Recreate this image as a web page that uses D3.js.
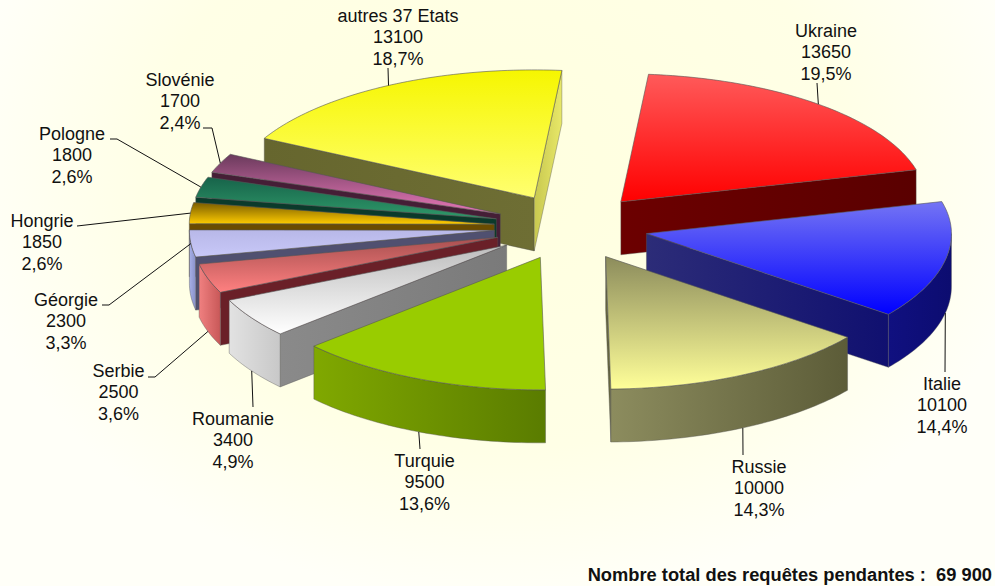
<!DOCTYPE html>
<html><head><meta charset="utf-8">
<script src="https://cdn.jsdelivr.net/npm/d3@7"></script>
<style>html,body{margin:0;padding:0;background:#ffffe8;overflow:hidden}svg{display:block}text{font-family:"Liberation Sans",Arial,sans-serif;fill:#111}</style>
</head><body><svg id="c" width="995" height="586"></svg>
<script>
const categories = ["Ukraine","Italie","Russie","Turquie","Roumanie","Serbie","Géorgie","Hongrie","Pologne","Slovénie","autres 37 Etats"];
const values = [13650,10100,10000,9500,3400,2500,2300,1850,1800,1700,13100];
const percents = ["19,5%","14,4%","14,3%","13,6%","4,9%","3,6%","3,3%","2,6%","2,6%","2,4%","18,7%"];
const totalLabel = "Nombre total des requêtes pendantes :  69 900";

// drawing order, back to front
const paintOrder = ["autres 37 Etats","Ukraine","Slovénie","Pologne","Hongrie","Géorgie","Serbie","Roumanie","Italie","Turquie","Russie"];
// top gradient (high, low), arc wall gradient (left, right), radial wall gradient (left, right), optional end-wall colours
const faceStyles = {
 "Ukraine":["#ff5a5a","#ff0000","#6b0000","#6b0000","#6c0000","#5a0000"],
 "Italie":["#7474f4","#0000ff","#101080","#0c0c70","#2c2c78","#101070"],
 "Russie":["#8c8c5c","#ffff99","#8c8c5e","#5c5c38","#66663e","#66663e"],
 "Turquie":["#99cc00","#99cc00","#80a800","#5a7c00","#7a9a00","#7a9a00"],
 "Roumanie":["#bdbdbd","#ffffff","#e2e2e2","#c8c8c8","#8a8a8a","#7a7a7a"],
 "Serbie":["#a85050","#ff8080","#f08080","#c85858","#6a2028","#6a2028"],
 "Géorgie":["#b8b8e8","#c8c8f8","#a8b0e8","#8890c8","#505070","#505070"],
 "Hongrie":["#7a5c00","#ffcc00","#aa8800","#aa8800","#6a4c00","#6a4c00"],
 "Pologne":["#17634a","#2f9a6a","#1a6a4a","#1a6a4a","#0b3a2b","#0b3a2b"],
 "Slovénie":["#6a3a5c","#e878b8","#6a3a5c","#6a3a5c","#451e36","#451e36"],
 "autres 37 Etats":["#f6f600","#ffff70","#6b6b30","#6b6b30","#66662e","#6e6e34","#c8c850","#e8e868"]
};
// text block centre + first baseline, and the elbow points of each leader line
const labelLayout = {
 "Ukraine":{x:826,y:37,leader:[[817,83]]},
 "Italie":{x:942,y:390,leader:[[945,372]]},
 "Russie":{x:759,y:473,leader:[[743,455]]},
 "Turquie":{x:424.5,y:467,leader:[[420,449]]},
 "Roumanie":{x:233,y:425,leader:[[253,407]]},
 "Serbie":{x:118.5,y:377,leader:[[155,377],[148,377]]},
 "Géorgie":{x:66,y:306,leader:[[109,305],[102,305]]},
 "Hongrie":{x:42,y:227,leader:[[77,226]]},
 "Pologne":{x:72,y:140,leader:[[117,139],[110,139]]},
 "Slovénie":{x:180,y:86,leader:[[212,128],[203,128]]},
 "autres 37 Etats":{x:398,y:22,leader:[[388,68]]}
};

const W=995,H=586,CX=571,CY=227,EXPLODE=77,TILT=0.43,RX=305,RY_BACK=128,RY_FRONT=132.5,DEPTH=53,LINE=21.3,START=5.2*Math.PI/180;
const svg=d3.select("#c");
const defs=svg.append("defs");
const bg=defs.append("radialGradient").attr("id","bg").attr("gradientUnits","userSpaceOnUse")
  .attr("cx",0).attr("cy",0).attr("r",1).attr("gradientTransform","translate(500,170) scale(540,430)");
[[0,"#ffffdf"],[0.65,"#ffffe6"],[1,"#fffff8"]].forEach(s=>bg.append("stop").attr("offset",s[0]).attr("stop-color",s[1]));
svg.append("rect").attr("width",W).attr("height",H).attr("fill","url(#bg)");

function grad(id,c0,c1,vertical){
  const g=defs.append("linearGradient").attr("id",id).attr("x1",0).attr("y1",0).attr("x2",vertical?0:1).attr("y2",vertical?1:0);
  g.append("stop").attr("offset",0).attr("stop-color",c0);
  g.append("stop").attr("offset",1).attr("stop-color",c1);
  return `url(#${id})`;
}
const arcs=d3.pie().sort(null).startAngle(START).endAngle(START+2*Math.PI).value(d=>d)(values);
const sx=d3.scaleLinear().domain([-1,1]).range([-RX,RX]);
const sy=d3.scaleLinear().domain([-1,0,1]).range([RY_FRONT,0,-RY_BACK]);
// a point on a slice: angle a clockwise from north, radius r (0..1), slice mid-angle, height offset z
function point(a,mid,r,z){
  const x=CX+EXPLODE*Math.sin(mid)+sx(r*Math.sin(a));
  const y=CY-EXPLODE*TILT*Math.cos(mid)+sy(r*Math.cos(a))+z;
  return [x,y];
}
const line=d3.line();
function arcPts(a0,a1,mid,z){
  const n=Math.max(2,Math.ceil((a1-a0)/0.02));
  return d3.range(n+1).map(i=>point(a0+(a1-a0)*i/n,mid,1,z));
}
const chart=svg.append("g");
const EDGE="#555";
paintOrder.forEach(name=>{
  const i=categories.indexOf(name),d=arcs[i],s=faceStyles[name];
  const a0=d.startAngle,a1=d.endAngle,m=(a0+a1)/2;
  const g=chart.append("g").attr("class","slice");
  const apex=point(0,m,0,0),apexB=point(0,m,0,DEPTH);
  if(Math.sin(a0)<0){
    g.append("path").attr("d",line([apex,point(a0,m,1,0),point(a0,m,1,DEPTH),apexB])+"Z")
     .attr("fill",grad("ws"+i,s[4],s[5],false)).attr("stroke",EDGE).attr("stroke-width",.4);
  }
  if(Math.sin(a1)>0){
    g.append("path").attr("d",line([apex,point(a1,m,1,0),point(a1,m,1,DEPTH),apexB])+"Z")
     .attr("fill",grad("we"+i,s[6]||s[4],s[7]||s[5],false)).attr("stroke",EDGE).attr("stroke-width",.4);
  }
  const v0=Math.max(a0,Math.PI/2),v1=Math.min(a1,Math.PI*1.5);
  if(v1>v0){
    const top=arcPts(v0,v1,m,0),bot=arcPts(v0,v1,m,DEPTH).reverse();
    g.append("path").attr("d",line(top.concat(bot))+"Z")
     .attr("fill",grad("a"+i,s[2],s[3],false)).attr("stroke",EDGE).attr("stroke-width",.4);
  }
  g.append("path").attr("d",line([apex].concat(arcPts(a0,a1,m,0)))+"Z")
   .attr("fill",grad("t"+i,s[0],s[1],true)).attr("stroke",EDGE).attr("stroke-width",.6).attr("stroke-linejoin","round");
});

const labels=svg.append("g");
categories.forEach((name,i)=>{
  const d=arcs[i],m=(d.startAngle+d.endAngle)/2,l=labelLayout[name];
  const anchor=point(m,m,1,Math.cos(m)<-0.15?DEPTH:0);
  labels.append("path").attr("d",line([anchor].concat(l.leader))).attr("fill","none").attr("stroke","#111").attr("stroke-width",1);
  const t=labels.append("text").attr("text-anchor","middle").attr("font-size",18);
  [name,String(values[i]),percents[i]].forEach((txt,j)=>{
    t.append("tspan").attr("x",l.x).attr("y",l.y+j*LINE).text(txt);
  });
});
svg.append("text").attr("x",992).attr("y",580.5).attr("text-anchor","end").attr("font-size",18.3).attr("font-weight","bold").style("white-space","pre").text(totalLabel);
</script></body></html>
